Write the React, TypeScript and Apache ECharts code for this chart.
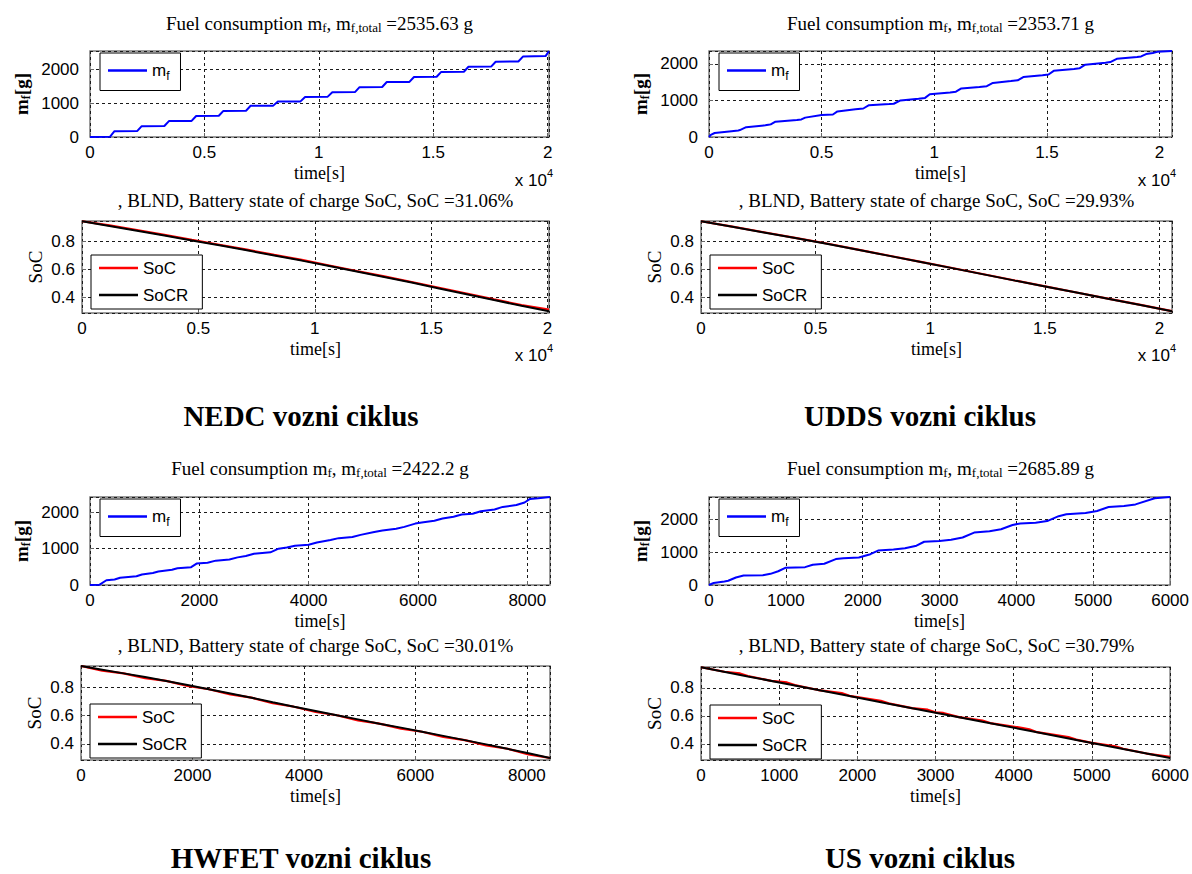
import React, { useEffect, useRef } from 'react';
import * as echarts from 'echarts';

const SERIF = '"Liberation Serif", "Times New Roman", serif';
const SANS = '"Liberation Sans", Arial, sans-serif';

// ---------------- data ----------------
// NEDC
const nedcFuelT = [0, 870, 1070, 2060, 2260, 3250, 3450, 4440, 4640, 5630, 5830, 6820, 7020, 8010, 8210, 9200, 9400, 10390, 10590, 11580, 11780, 12770, 12970, 13960, 14160, 15150, 15350, 16340, 16540, 17530, 17730, 18720, 18920, 19910, 20060];
const nedcFuelM = [0, 5, 170, 175, 320, 325, 470, 475, 620, 625, 770, 775, 920, 925, 1045, 1050, 1180, 1190, 1320, 1325, 1470, 1475, 1620, 1625, 1770, 1775, 1920, 1925, 2070, 2075, 2220, 2225, 2370, 2385, 2535.63];
const nedcSocT = [0, 1180, 2360, 3540, 4720, 5900, 7080, 8260, 9440, 10620, 11800, 12980, 14160, 15340, 16520, 17700, 18880, 20060];
const nedcSoc = [0.946, 0.917, 0.883, 0.848, 0.812, 0.777, 0.742, 0.704, 0.668, 0.628, 0.588, 0.549, 0.509, 0.468, 0.426, 0.384, 0.343, 0.3106];
const nedcSocR = [0.946, 0.912, 0.878, 0.843, 0.808, 0.773, 0.737, 0.700, 0.663, 0.624, 0.585, 0.545, 0.505, 0.463, 0.421, 0.379, 0.338, 0.298];

// UDDS
const uddsFuelT = [0, 80, 250, 1000, 1300, 1370, 1650, 2500, 2700, 2740, 2950, 3900, 4100, 4270, 5000, 5500, 5700, 6500, 6850, 7100, 8000, 8200, 8500, 9300, 9590, 9800, 10700, 10960, 11200, 12000, 12330, 12600, 13400, 13700, 13950, 14800, 15070, 15300, 16200, 16440, 16700, 17600, 17810, 18100, 19000, 19180, 19400, 19700, 19900, 20550];
const uddsFuelM = [0, 60, 110, 160, 180, 190, 270, 320, 340, 345, 420, 465, 480, 530, 600, 615, 700, 760, 780, 870, 900, 910, 1000, 1050, 1070, 1170, 1220, 1240, 1330, 1370, 1390, 1480, 1530, 1550, 1640, 1690, 1710, 1810, 1860, 1880, 1980, 2030, 2050, 2140, 2190, 2205, 2270, 2300, 2330, 2353.71];
const uddsSocT = [0, 1370, 2740, 4110, 5480, 6850, 8220, 9590, 10960, 12330, 13700, 15070, 16440, 17810, 19180, 20550];
const uddsSoc = [0.946, 0.907, 0.867, 0.827, 0.786, 0.742, 0.698, 0.654, 0.610, 0.565, 0.520, 0.476, 0.432, 0.388, 0.344, 0.2993];
const uddsSocR = [0.946, 0.906, 0.866, 0.826, 0.785, 0.741, 0.697, 0.653, 0.609, 0.564, 0.519, 0.475, 0.431, 0.387, 0.343, 0.299];

// HWFET
const hwFuelT = [0, 170, 300, 450, 550, 850, 950, 1150, 1250, 1500, 1600, 1850, 1950, 2150, 2300, 2550, 2700, 2850, 3000, 3300, 3450, 3600, 3750, 4000, 4150, 4400, 4550, 4800, 4950, 5200, 5350, 5600, 5750, 5950, 6100, 6300, 6450, 6650, 6800, 7000, 7150, 7400, 7550, 7800, 7950, 8050, 8200, 8415];
const hwFuelM = [0, 5, 130, 150, 200, 240, 290, 330, 370, 420, 460, 490, 590, 610, 670, 700, 760, 800, 860, 900, 1000, 1030, 1080, 1110, 1170, 1240, 1290, 1320, 1380, 1460, 1500, 1550, 1600, 1690, 1730, 1770, 1830, 1880, 1940, 1960, 2030, 2080, 2150, 2200, 2270, 2370, 2390, 2422.2];
const hwSocT = [0, 380, 765, 1150, 1530, 1910, 2295, 2680, 3060, 3440, 3825, 4210, 4590, 4970, 5355, 5740, 6120, 6500, 6885, 7270, 7650, 8030, 8415];
const hwSoc = [0.948, 0.915, 0.896, 0.862, 0.843, 0.807, 0.784, 0.748, 0.725, 0.686, 0.661, 0.624, 0.601, 0.565, 0.542, 0.507, 0.485, 0.449, 0.426, 0.389, 0.365, 0.326, 0.3001];
const hwSocR = [0.948, 0.922, 0.896, 0.870, 0.843, 0.814, 0.784, 0.755, 0.725, 0.693, 0.661, 0.631, 0.601, 0.572, 0.542, 0.514, 0.485, 0.456, 0.426, 0.396, 0.365, 0.333, 0.300];

// US
const usFuelT = [0, 60, 200, 250, 350, 450, 700, 800, 900, 1000, 1250, 1350, 1500, 1650, 1750, 1950, 2100, 2200, 2400, 2550, 2700, 2800, 3000, 3150, 3300, 3450, 3650, 3800, 3950, 4050, 4250, 4400, 4550, 4650, 4900, 5050, 5200, 5400, 5550, 5800, 6000];
const usFuelM = [0, 60, 110, 130, 230, 290, 300, 340, 420, 530, 545, 620, 650, 790, 820, 840, 940, 1050, 1080, 1120, 1200, 1320, 1340, 1380, 1450, 1600, 1640, 1700, 1830, 1880, 1900, 1950, 2100, 2160, 2200, 2260, 2380, 2410, 2460, 2650, 2685.89];
const usSocT = [0, 300, 500, 600, 900, 1100, 1200, 1500, 1800, 1900, 2300, 2400, 2700, 2900, 3000, 3100, 3300, 3600, 3700, 4100, 4200, 4300, 4700, 4800, 5000, 5300, 5400, 5700, 6000];
const usSoc = [0.946, 0.914, 0.902, 0.884, 0.849, 0.838, 0.819, 0.784, 0.762, 0.743, 0.708, 0.689, 0.655, 0.644, 0.625, 0.621, 0.591, 0.567, 0.549, 0.515, 0.504, 0.484, 0.449, 0.431, 0.408, 0.384, 0.366, 0.332, 0.3079];
const usSocRT = [0, 600, 1200, 1800, 2400, 3000, 3600, 4200, 4800, 5400, 6000];
const usSocR = [0.946, 0.881, 0.817, 0.752, 0.687, 0.623, 0.558, 0.494, 0.429, 0.364, 0.300];

const fuelTotals = ['2535.63', '2353.71', '2422.2', '2685.89'];
const socFinals = ['31.06', '29.93', '30.01', '30.79'];
const cycleNames = ['NEDC vozni ciklus', 'UDDS vozni ciklus', 'HWFET vozni ciklus', 'US vozni ciklus'];
const xMaxes = [20060, 20550, 8415, 6000];
const xIntervals = [5000, 5000, 2000, 1000];
const xScaled = [true, true, false, false];
const fuelMaxes = [2535.63, 2353.71, 2422.2, 2685.89];
const yTickFuel = 1000;
const socMin = 0.286;
const socMax = 0.948;

const pairs = (t: number[], v: number[]) => t.map((x, i) => [x, v[i]]);

// ---------------- layout ----------------
const fuelGrids = [
  { l: 90, t: 51, w: 459, h: 86 },
  { l: 709, t: 51, w: 463, h: 86 },
  { l: 90, t: 497, w: 460, h: 88 },
  { l: 709, t: 497, w: 463, h: 88 },
];
const socGrids = [
  { l: 82, t: 221, w: 467, h: 92 },
  { l: 701, t: 221, w: 471, h: 92 },
  { l: 81, t: 666, w: 469, h: 94 },
  { l: 701, t: 667, w: 471, h: 93 },
];
const fuelTitleY = [23, 23, 468, 468];
const socTitleY = [200, 200, 645, 645];
const labelPos = [
  { x: 301, y: 416 },
  { x: 920, y: 416 },
  { x: 301, y: 858 },
  { x: 920, y: 858 },
];

const fuelData = [pairs(nedcFuelT, nedcFuelM), pairs(uddsFuelT, uddsFuelM), pairs(hwFuelT, hwFuelM), pairs(usFuelT, usFuelM)];
const socData = [pairs(nedcSocT, nedcSoc), pairs(uddsSocT, uddsSoc), pairs(hwSocT, hwSoc), pairs(usSocT, usSoc)];
const socRData = [pairs(nedcSocT, nedcSocR), pairs(uddsSocT, uddsSocR), pairs(hwSocT, hwSocR), pairs(usSocRT, usSocR)];

const gridLine = { show: true, lineStyle: { color: '#1a1a1a', type: [3, 3] as any, width: 1 } };
const TICK_FS = 17;

function makeX(gridIndex: number, p: number) {
  return {
    type: 'value',
    gridIndex,
    min: 0,
    max: xMaxes[p],
    interval: xIntervals[p],
    axisLine: { show: false },
    axisTick: { show: true, inside: true, length: 4, lineStyle: { color: '#666' } },
    axisLabel: {
      color: '#000',
      fontFamily: SANS,
      fontSize: TICK_FS,
      margin: 7,
      showMinLabel: true,
      showMaxLabel: p === 3,
      formatter: (v: number) => (xScaled[p] ? String(Math.round((v / 10000) * 100) / 100) : String(v)),
    },
    splitLine: gridLine,
    name: 'time[s]',
    nameLocation: 'middle',
    nameGap: 27,
    nameTextStyle: { fontFamily: SERIF, fontSize: 18, color: '#000' },
  };
}

function makeFuelY(gridIndex: number, p: number) {
  return {
    type: 'value',
    gridIndex,
    min: 0,
    max: fuelMaxes[p],
    interval: yTickFuel,
    axisLine: { show: false },
    axisTick: { show: true, inside: true, length: 4, lineStyle: { color: '#666' } },
    axisLabel: {
      color: '#000', fontFamily: SANS, fontSize: TICK_FS, margin: 11, showMinLabel: true, showMaxLabel: false,
      formatter: (v: number) => String(v),
    },
    splitLine: gridLine,
    name: '{b|m}{s|f}{b|[g]}',
    nameLocation: 'middle',
    nameRotate: 90,
    nameGap: 58,
    nameTextStyle: {
      rich: {
        b: { fontFamily: SERIF, fontWeight: 'bold', fontSize: 19, lineHeight: 22, color: '#000' },
        s: { fontFamily: SERIF, fontWeight: 'bold', fontSize: 12, lineHeight: 12, verticalAlign: 'bottom', color: '#000' },
      },
    },
  };
}

function makeSocY(gridIndex: number) {
  return {
    type: 'value',
    gridIndex,
    min: socMin,
    max: socMax,
    splitNumber: 3,
    axisLine: { show: false },
    axisTick: { show: true, inside: true, length: 4, lineStyle: { color: '#666' } },
    axisLabel: {
      color: '#000', fontFamily: SANS, fontSize: TICK_FS, margin: 7,
      showMinLabel: false, showMaxLabel: false,
      formatter: (v: number) => v.toFixed(1),
    },
    splitLine: gridLine,
    name: 'SoC',
    nameLocation: 'middle',
    nameRotate: 90,
    nameGap: 37,
    nameTextStyle: { fontFamily: SERIF, fontSize: 19, color: '#000' },
  };
}

function buildOption() {
  const grid: any[] = [];
  const xAxis: any[] = [];
  const yAxis: any[] = [];
  const series: any[] = [];
  const legend: any[] = [];
  const graphic: any[] = [];

  for (let p = 0; p < 4; p++) {
    const fg = fuelGrids[p];
    const sg = socGrids[p];
    const fi = p * 2;
    const si = p * 2 + 1;
    grid.push({ left: fg.l, top: fg.t, width: fg.w, height: fg.h, show: true, borderColor: '#7a7a7a', borderWidth: 1.5 });
    grid.push({ left: sg.l, top: sg.t, width: sg.w, height: sg.h, show: true, borderColor: '#7a7a7a', borderWidth: 1.5 });
    xAxis.push(makeX(fi, p));
    xAxis.push(makeX(si, p));
    yAxis.push(makeFuelY(fi, p));
    yAxis.push(makeSocY(si));

    series.push({
      type: 'line', name: 'mf', xAxisIndex: fi, yAxisIndex: fi, data: fuelData[p],
      showSymbol: false, symbol: 'none', lineStyle: { color: '#0000ff', width: 2 }, itemStyle: { color: '#0000ff' },
    });
    series.push({
      type: 'line', name: 'SoC', xAxisIndex: si, yAxisIndex: si, data: socData[p],
      showSymbol: false, symbol: 'none', lineStyle: { color: '#ff0000', width: 2.2 }, itemStyle: { color: '#ff0000' },
    });
    series.push({
      type: 'line', name: 'SoCR', xAxisIndex: si, yAxisIndex: si, data: socRData[p],
      showSymbol: false, symbol: 'none', lineStyle: { color: '#000000', width: 2 }, itemStyle: { color: '#000000' },
    });

    legend.push({
      data: ['mf'], left: fg.l + 10, top: fg.t + 2, orient: 'vertical', icon: 'rect',
      itemWidth: 39, itemHeight: 2.5, itemGap: 9, padding: [9, 11, 9, 8],
      borderColor: '#000', borderWidth: 1, backgroundColor: '#fff', selectedMode: false,
      formatter: () => '{m|m}{s|f}',
      textStyle: {
        rich: {
          m: { fontFamily: SANS, fontSize: 17, lineHeight: 22, color: '#000' },
          s: { fontFamily: SANS, fontSize: 12, lineHeight: 12, verticalAlign: 'bottom', color: '#000' },
        },
      },
    });
    const socLegTop = p < 2 ? sg.t + 34 : sg.t + 38;
    legend.push({
      data: ['SoC', 'SoCR'], left: sg.l + 9, top: socLegTop, orient: 'vertical', icon: 'rect',
      itemWidth: 39, itemHeight: 2.5, itemGap: 9, padding: [4, 14, 5, 8],
      borderColor: '#000', borderWidth: 1, backgroundColor: '#fff', selectedMode: false,
      textStyle: { fontFamily: SANS, fontSize: 17, lineHeight: 18, color: '#000' },
    });

    // titles
    graphic.push({
      type: 'text', x: fg.l + fg.w / 2, y: fuelTitleY[p], z: 10,
      style: {
        text: `{n|Fuel consumption m}{s|f}{n|, m}{s|f,total}{n| =${fuelTotals[p]} g}`,
        align: 'center', verticalAlign: 'middle', fill: '#000',
        rich: {
          n: { fontFamily: SERIF, fontSize: 19, lineHeight: 22, fill: '#000' },
          s: { fontFamily: SERIF, fontSize: 13, lineHeight: 13, verticalAlign: 'bottom', fill: '#000' },
        },
      },
    });
    graphic.push({
      type: 'text', x: sg.l + sg.w / 2, y: socTitleY[p], z: 10,
      style: {
        text: `, BLND, Battery state of charge SoC, SoC =${socFinals[p]}%`,
        align: 'center', verticalAlign: 'middle', fill: '#000',
        fontFamily: SERIF, fontSize: 19,
      },
    });
    // cycle label
    graphic.push({
      type: 'text', x: labelPos[p].x, y: labelPos[p].y, z: 10,
      style: {
        text: cycleNames[p], align: 'center', verticalAlign: 'middle', fill: '#000',
        fontFamily: SERIF, fontSize: 29, fontWeight: 'bold',
      },
    });
    if (xScaled[p]) {
      const mult = (x: number, y: number) => ({
        type: 'text', x, y, z: 10,
        style: {
          text: '{n|x 10}{e|4}', align: 'right', verticalAlign: 'middle', fill: '#000',
          rich: {
            n: { fontFamily: SANS, fontSize: 17, lineHeight: 26, fill: '#000' },
            e: { fontFamily: SANS, fontSize: 11, lineHeight: 11, verticalAlign: 'top', fill: '#000' },
          },
        },
      });
      graphic.push(mult(fg.l + fg.w + 4, 180));
      graphic.push(mult(sg.l + sg.w + 4, 355));
    }
  }

  return {
    animation: false,
    backgroundColor: '#ffffff',
    grid, xAxis, yAxis, series, legend, graphic,
  };
}

export default function App() {
  const ref = useRef<HTMLDivElement>(null);
  useEffect(() => {
    if (!ref.current) return;
    const chart = echarts.init(ref.current, undefined, { renderer: 'svg' });
    chart.setOption(buildOption() as any);
    return () => chart.dispose();
  }, []);
  return (
    <div
      ref={ref}
      style={{ position: 'absolute', left: 0, top: 0, width: 1192, height: 874, background: '#fff' }}
    />
  );
}
